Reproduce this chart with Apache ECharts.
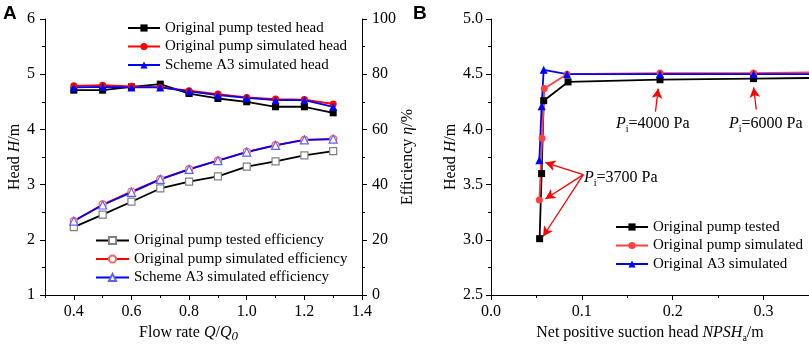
<!DOCTYPE html>
<html>
<head>
<meta charset="utf-8">
<script src="https://cdn.jsdelivr.net/npm/echarts@6/dist/echarts.min.js"></script>
<style>
html, body { margin: 0; padding: 0; background: #fff; }
#chart { width: 809px; height: 344px; }
</style>
</head>
<body>
<div id="chart"></div>
<script>
// panel A - head / efficiency vs flow rate
const flowRate = [0.4, 0.5, 0.6, 0.7, 0.8, 0.9, 1.0, 1.1, 1.2, 1.3]
const headTested = [4.71, 4.71, 4.77, 4.82, 4.65, 4.56, 4.50, 4.41, 4.41, 4.30]
const headSimOrig = [4.79, 4.80, 4.78, 4.76, 4.70, 4.64, 4.58, 4.55, 4.54, 4.46]
const headSimA3 = [4.76, 4.77, 4.76, 4.76, 4.69, 4.62, 4.57, 4.53, 4.53, 4.41]
const effTested = [24.6, 29.1, 33.8, 38.6, 41.1, 43.0, 46.5, 48.4, 50.6, 52.1]
const effSimOrig = [26.8, 32.8, 37.5, 42.0, 45.6, 48.7, 51.9, 54.3, 56.2, 56.5]
const effSimA3 = [26.8, 32.6, 37.2, 41.9, 45.5, 48.7, 51.8, 54.2, 56.2, 56.5]
const flowMajorTicks = [0.4, 0.6, 0.8, 1.0, 1.2, 1.4]
const flowMinorTicks = [0.3, 0.5, 0.7, 0.9, 1.1, 1.3]

// panel B - head vs NPSHa
const npshTested = [0.0535, 0.0557, 0.0580, 0.0848, 0.186, 0.289, 0.40]
const hTested = [3.01, 3.60, 4.26, 4.43, 4.45, 4.46, 4.47]
const npshSimOrig = [0.0532, 0.0562, 0.0587, 0.0837, 0.186, 0.289, 0.40]
const hSimOrig = [3.36, 3.92, 4.37, 4.50, 4.51, 4.51, 4.52]
const npshSimA3 = [0.0532, 0.0557, 0.0580, 0.0837, 0.186, 0.289, 0.40]
const hSimA3 = [3.72, 4.21, 4.54, 4.50, 4.50, 4.50, 4.50]
const npshMajorTicks = [0, 0.1, 0.2, 0.3]
const npshMinorTicks = [0.05, 0.15, 0.25, 0.35]

// annotation arrows (data coords: from -> to)
const arrowFrom = [[0.1016, 3.59], [0.1016, 3.59], [0.1016, 3.59], [0.181, 4.16], [0.292, 4.18]]
const arrowTo = [[0.0598, 3.70], [0.0598, 3.37], [0.0573, 3.03], [0.184, 4.37], [0.289, 4.38]]

const serif = "'Liberation Serif', 'Times New Roman', serif"
const black = '#000'

const zip = (xs, ys) => xs.map((x, i) => [x, ys[i]])

const richText = {
  n: { fontFamily: serif, fontSize: 16, color: black, lineHeight: 20, verticalAlign: 'middle' },
  i: { fontFamily: serif, fontSize: 16, color: black, fontStyle: 'italic', lineHeight: 20, verticalAlign: 'middle' },
  s: { fontFamily: serif, fontSize: 10, color: black, lineHeight: 11, verticalAlign: 'bottom' },
  si: { fontFamily: serif, fontSize: 13, color: black, fontStyle: 'italic', lineHeight: 14, verticalAlign: 'bottom' }
}

const tickFont = { color: black, fontFamily: serif, fontSize: 16 }

function valueAxis(extra) {
  return Object.assign({
    type: 'value',
    axisLine: { show: true, lineStyle: { color: black, width: 1 } },
    axisTick: { show: true, length: 5, lineStyle: { color: black } },
    minorTick: { show: true, splitNumber: 2, length: 3, lineStyle: { color: black } },
    axisLabel: Object.assign({ margin: 10 }, tickFont),
    splitLine: { show: false },
    nameLocation: 'middle',
    nameTextStyle: { color: black, fontFamily: serif, fontSize: 16, rich: richText }
  }, extra)
}

function minorAxis(gridIndex, min, max, values) {
  return {
    type: 'value', gridIndex, min, max, position: 'bottom',
    axisLine: { show: false },
    axisLabel: { show: false },
    splitLine: { show: false },
    axisTick: { show: true, length: 3, customValues: values, lineStyle: { color: black } }
  }
}

const legendBase = {
  orient: 'vertical',
  itemHeight: 9,
  itemGap: 0.5,
  selectedMode: false,
  textStyle: { color: black, fontFamily: serif, fontSize: 15, lineHeight: 18 }
}

const option = {
  animation: false,
  backgroundColor: '#fff',
  grid: [
    { left: 45, top: 19, width: 317, height: 276, outerBoundsMode: 'none', containLabel: false },
    { left: 491, top: 19, width: 318, height: 276, outerBoundsMode: 'none', containLabel: false }
  ],
  xAxis: [
    valueAxis({
      gridIndex: 0, min: 0.3, max: 1.4, position: 'bottom',
      minorTick: { show: false },
      axisTick: { show: true, length: 5, customValues: flowMajorTicks, lineStyle: { color: black } },
      axisLabel: Object.assign({ margin: 9, customValues: flowMajorTicks, formatter: v => v.toFixed(1) }, tickFont),
      name: '{n|Flow rate }{i|Q}{n|/}{i|Q}{si|0}',
      nameGap: 23,
      nameTextStyle: { color: black, fontFamily: serif, fontSize: 16, rich: richText, padding: [0, 30, 0, 0] }
    }),
    minorAxis(0, 0.3, 1.4, flowMinorTicks),
    valueAxis({
      gridIndex: 1, min: 0, max: 0.35, position: 'bottom',
      minorTick: { show: false },
      axisTick: { show: true, length: 5, customValues: npshMajorTicks, lineStyle: { color: black } },
      axisLabel: Object.assign({ margin: 9, customValues: npshMajorTicks, formatter: v => v.toFixed(1) }, tickFont),
      name: '{n|Net positive suction head }{i|NPSH}{s|a}{n|/m}',
      nameGap: 22
    }),
    minorAxis(1, 0, 0.35, npshMinorTicks)
  ],
  yAxis: [
    valueAxis({
      gridIndex: 0, min: 1, max: 6, interval: 1, position: 'left',
      name: '{n|Head }{i|H}{n|/m}', nameGap: 20
    }),
    valueAxis({
      gridIndex: 0, min: 0, max: 100, interval: 20, position: 'right',
      axisLabel: Object.assign({ margin: 10 }, tickFont),
      name: '{n|Efficiency }{i|η}{n|/%}', nameGap: 31, nameRotate: 90
    }),
    valueAxis({
      gridIndex: 1, min: 2.5, max: 5, interval: 0.5, position: 'left',
      axisLabel: Object.assign({ margin: 8, formatter: v => v.toFixed(1) }, tickFont),
      name: '{n|Head }{i|H}{n|/m}', nameGap: 24
    })
  ],
  legend: [
    Object.assign({}, legendBase, {
      left: 122, top: 14, itemWidth: 32,
      data: ['Original pump tested head', 'Original pump simulated head', 'Scheme A3 simulated head']
    }),
    Object.assign({}, legendBase, {
      left: 90, top: 226.5, itemWidth: 33,
      data: ['Original pump tested efficiency', 'Original pump simulated efficiency', 'Scheme A3 simulated efficiency']
    }),
    Object.assign({}, legendBase, {
      left: 610, top: 213, itemWidth: 32,
      data: ['Original pump tested', 'Original pump simulated', 'Original A3 simulated']
    })
  ],
  series: [
    {
      name: 'Original pump tested head', type: 'line', xAxisIndex: 0, yAxisIndex: 0,
      data: zip(flowRate, headTested), symbol: 'rect', symbolSize: 7,
      lineStyle: { color: black, width: 1.8 }, itemStyle: { color: black }
    },
    {
      name: 'Original pump simulated head', type: 'line', xAxisIndex: 0, yAxisIndex: 0,
      data: zip(flowRate, headSimOrig), symbol: 'circle', symbolSize: 7,
      lineStyle: { color: '#ff0000', width: 1.8 }, itemStyle: { color: '#ff0000' }
    },
    {
      name: 'Scheme A3 simulated head', type: 'line', xAxisIndex: 0, yAxisIndex: 0,
      data: zip(flowRate, headSimA3), symbol: 'triangle', symbolSize: 8,
      lineStyle: { color: '#0000ff', width: 1.8 }, itemStyle: { color: '#0000ff' }
    },
    {
      name: 'Original pump tested efficiency', type: 'line', xAxisIndex: 0, yAxisIndex: 1,
      data: zip(flowRate, effTested), symbol: 'rect', symbolSize: 7,
      lineStyle: { color: black, width: 1.8 },
      itemStyle: { color: '#fff', borderColor: '#808080', borderWidth: 1.2 }
    },
    {
      name: 'Original pump simulated efficiency', type: 'line', xAxisIndex: 0, yAxisIndex: 1,
      data: zip(flowRate, effSimOrig), symbol: 'circle', symbolSize: 7,
      lineStyle: { color: '#ff0000', width: 1.8 },
      itemStyle: { color: '#fff', borderColor: '#ff6060', borderWidth: 1.2 }
    },
    {
      name: 'Scheme A3 simulated efficiency', type: 'line', xAxisIndex: 0, yAxisIndex: 1,
      data: zip(flowRate, effSimA3), symbol: 'triangle', symbolSize: 8,
      lineStyle: { color: '#0000ff', width: 1.8 },
      itemStyle: { color: '#fff', borderColor: '#6060ff', borderWidth: 1.2 }
    },
    {
      name: 'Original pump tested', type: 'line', xAxisIndex: 2, yAxisIndex: 2,
      data: zip(npshTested, hTested), symbol: 'rect', symbolSize: 7,
      lineStyle: { color: black, width: 1.8 }, itemStyle: { color: black }
    },
    {
      name: 'Original pump simulated', type: 'line', xAxisIndex: 2, yAxisIndex: 2,
      data: zip(npshSimOrig, hSimOrig), symbol: 'circle', symbolSize: 7,
      lineStyle: { color: '#ff4040', width: 1.8 }, itemStyle: { color: '#ff4040' }
    },
    {
      name: 'Original A3 simulated', type: 'line', xAxisIndex: 2, yAxisIndex: 2,
      data: zip(npshSimA3, hSimA3), symbol: 'triangle', symbolSize: 8,
      lineStyle: { color: '#0000ff', width: 1.8 }, itemStyle: { color: '#0000ff' },
      markLine: {
        silent: true,
        symbol: ['none', 'arrow'],
        symbolSize: [8, 10],
        lineStyle: { color: '#ff0000', width: 1.3, type: 'solid' },
        label: { show: false },
        emphasis: { disabled: true },
        data: arrowFrom.map((p, i) => [{ coord: p }, { coord: arrowTo[i] }])
      }
    }
  ],
  graphic: [
    { type: 'text', left: 3, top: 4, style: { text: 'A', fontFamily: "'Liberation Sans', Arial, sans-serif", fontWeight: 'bold', fontSize: 19, fill: black } },
    { type: 'text', left: 413, top: 4, style: { text: 'B', fontFamily: "'Liberation Sans', Arial, sans-serif", fontWeight: 'bold', fontSize: 19, fill: black } },
    { type: 'text', left: 616, top: 116, style: { text: '{i|P}{s|i}{n|=4000 Pa}', rich: richText } },
    { type: 'text', left: 729, top: 116, style: { text: '{i|P}{s|i}{n|=6000 Pa}', rich: richText } },
    { type: 'text', left: 584, top: 170, style: { text: '{i|P}{s|i}{n|=3700 Pa}', rich: richText } }
  ]
}

const chart = echarts.init(document.getElementById('chart'))
chart.setOption(option)
window.addEventListener('resize', () => chart.resize())
</script>
</body>
</html>
